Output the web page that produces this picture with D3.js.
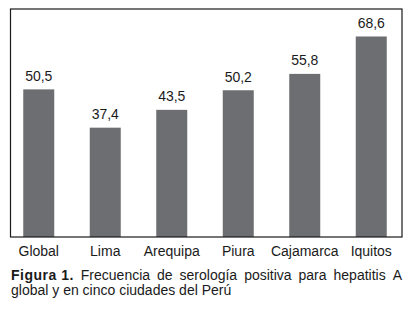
<!DOCTYPE html>
<html>
<head>
<meta charset="utf-8">
<script src="https://cdn.jsdelivr.net/npm/d3@7"></script>
<style>
html,body{margin:0;padding:0;background:#fff;}
svg{display:block;}
</style>
</head>
<body>
<svg id="chart" width="413" height="310"></svg>
<script>
const categories = ["Global","Lima","Arequipa","Piura","Cajamarca","Iquitos"];
const values = [50.5,37.4,43.5,50.2,55.8,68.6];
const valueLabels = ["50,5","37,4","43,5","50,2","55,8","68,6"];
const captionBold = "Figura 1.";
const captionLine1 = "Frecuencia de serología positiva para hepatitis A";
const captionLine2 = "global y en cinco ciudades del Perú";

const FONT = "'Liberation Sans'";
const svg = d3.select("#chart");
const frame = {left:10.5, right:402, top:9, bottom:237};

const x = d3.scaleBand().domain(categories).range([5.5,404.5]).paddingInner(0.534).paddingOuter(0.267);
const y = d3.scaleLinear().domain([0,78]).range([frame.bottom, frame.top]);

svg.selectAll("rect.bar").data(values).enter().append("rect")
  .attr("class","bar")
  .attr("x",(d,i)=>x(categories[i]))
  .attr("width",x.bandwidth())
  .attr("y",d=>y(d))
  .attr("height",d=>y(0)-y(d))
  .attr("fill","#6d6e71");

svg.selectAll("text.val").data(values).enter().append("text")
  .attr("class","val")
  .attr("x",(d,i)=>x(categories[i])+x.bandwidth()/2)
  .attr("y",d=>y(d)-8.5)
  .attr("text-anchor","middle")
  .style("font-family",FONT)
  .style("font-size","14px")
  .attr("fill","#1a1a1a")
  .text((d,i)=>valueLabels[i]);

svg.append("rect")
  .attr("x",frame.left).attr("y",frame.top)
  .attr("width",frame.right-frame.left).attr("height",frame.bottom-frame.top)
  .attr("fill","none").attr("stroke","#1a1a1a").attr("stroke-width",1.2);

const axis = d3.axisBottom(x).tickSize(0).tickPadding(0);
const ax = svg.append("g").attr("transform",`translate(0,${frame.bottom})`).call(axis);
ax.select(".domain").remove();
ax.selectAll("text")
  .style("font-family",FONT).style("font-size","14px")
  .attr("fill","#1a1a1a")
  .attr("dy",null).attr("y",19);

// caption line 1, justified
const words = [{t:captionBold,b:true}].concat(captionLine1.split(" ").map(t=>({t,b:false})));
const capLeft = 11, capRight = 402;
const nodes = words.map(w=>svg.append("text").attr("y",280)
  .style("font-family",FONT).style("font-size","14px")
  .style("letter-spacing",w.b?"0.5px":"0px")
  .style("font-weight",w.b?"bold":"normal").attr("fill","#1a1a1a").text(w.t));
const widths = nodes.map(n=>n.node().getComputedTextLength());
const gap = (capRight-capLeft-d3.sum(widths))/(words.length-1);
let cx = capLeft;
nodes.forEach((n,i)=>{ n.attr("x",cx); cx += widths[i]+gap; });

svg.append("text").attr("x",capLeft).attr("y",295)
  .style("font-family",FONT).style("font-size","14px")
  .attr("fill","#1a1a1a").text(captionLine2);
</script>
</body>
</html>
